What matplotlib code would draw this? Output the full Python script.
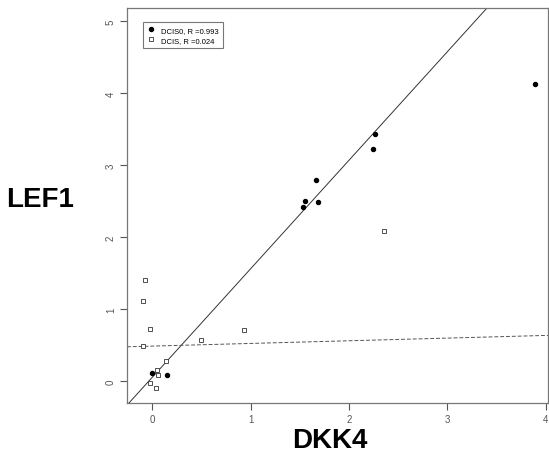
import numpy as np
import matplotlib
matplotlib.use("Agg")
import matplotlib.pyplot as plt

plt.rcParams['font.family'] = ['Liberation Sans', 'DejaVu Sans']

# DCIS0 (filled circles)
dcis0_x = [0.00, 0.15, 2.27, 2.24, 1.67, 1.55, 1.53, 1.69, 3.89]
dcis0_y = [0.11, 0.09, 3.44, 3.23, 2.80, 2.50, 2.42, 2.49, 4.13]

# DCIS (open squares)
dcis_x = [-0.07, -0.09, -0.02, -0.09, 0.50, 0.93, 0.14, 0.05, 0.06, -0.02, 0.04, 2.36]
dcis_y = [1.41, 1.11, 0.73, 0.49, 0.58, 0.71, 0.28, 0.16, 0.09, -0.02, -0.09, 2.09]

# fitted lines: (intercept, slope)
fit_dcis0 = (0.057, 1.506)
fit_dcis = (0.49, 0.037)

labels = ["DCIS0, R =0.993", "DCIS, R =0.024"]
xticks = [0, 1, 2, 3, 4]
yticks = [0, 1, 2, 3, 4, 5]

fig = plt.figure(figsize=(5.49, 4.60), dpi=100)
ax = fig.add_axes([127/549, 56/460, 421/549, 394.7/460])

xl = (-0.257, 4.025)
yl = (-0.30, 5.18)
xx = np.array(xl)

ax.plot(xx, fit_dcis0[0] + fit_dcis0[1]*xx, color='#333333', lw=0.7)
ax.plot(xx, fit_dcis[0] + fit_dcis[1]*xx, color='#555555', lw=0.7, ls=(0, (4, 2)))

ax.plot(dcis0_x, dcis0_y, 'o', color='black', ms=2.9, label=labels[0])
ax.plot(dcis_x, dcis_y, 's', mfc='white', mec='#333333', mew=0.6, ms=3.0, label=labels[1])

ax.set_xlim(xl)
ax.set_ylim(yl)
ax.set_xticks(xticks)
ax.set_yticks(yticks)
ax.tick_params(labelsize=7, colors='#555555', length=5, width=0.8, pad=3)
for lab in ax.get_yticklabels():
    lab.set_rotation(90)
    lab.set_va('center')
for s in ax.spines.values():
    s.set_color('#777777')
    s.set_linewidth(0.9)

leg = ax.legend(loc='upper left', bbox_to_anchor=(0.037, 0.965), fontsize=5.5,
                frameon=True, fancybox=False, handlelength=1.0, handletextpad=0.8,
                borderpad=0.6, labelspacing=0.3, borderaxespad=0)
leg.get_frame().set_edgecolor('#555555')
leg.get_frame().set_linewidth(0.8)

fig.text(40/549, 1 - 200/460, "LEF1", fontsize=20, fontweight='bold', ha='center', va='center')
fig.text(330/549, 1 - 441/460, "DKK4", fontsize=20, fontweight='bold', ha='center', va='center')

fig.savefig("out.png", dpi=100)
